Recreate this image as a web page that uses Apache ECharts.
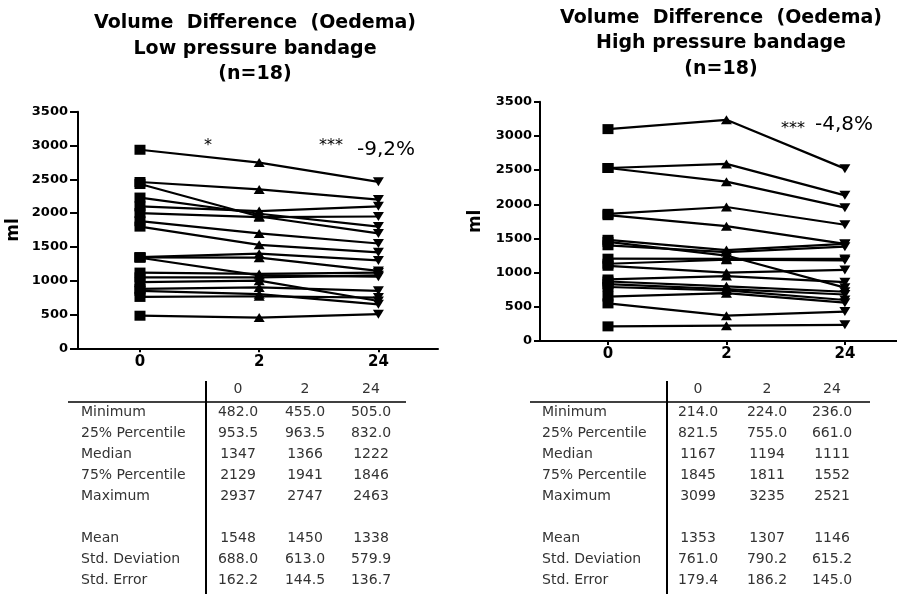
<!DOCTYPE html>
<html>
<head>
<meta charset="utf-8">
<script src="https://cdn.jsdelivr.net/npm/echarts@6/dist/echarts.min.js"></script>
<style>html,body{margin:0;padding:0;background:#fff;}#c{width:897px;height:594px;}</style>
</head>
<body>
<div id="c"></div>
<script>
// ---- data ----
const timeLabels = ['0', '2', '24'];
const yTicks = [0, 500, 1000, 1500, 2000, 2500, 3000, 3500];

const lowT0  = [2937, 2460, 2430, 2230, 2100, 2000, 1880, 1800, 1349, 1345, 1340, 1120, 1050, 978, 880, 850, 760, 482];
const lowT2  = [2747, 2350, 1950, 1990, 2030, 1940, 1700, 1530, 1400, 1340, 1080, 1100, 1050, 1000, 900, 800, 770, 455];
const lowT24 = [2463, 2200, 1700, 1800, 2100, 1950, 1550, 1420, 1300, 1145, 1060, 1120, 1080, 700, 850, 650, 750, 505];

const highT0  = [3099, 2530, 2530, 1860, 1840, 1480, 1450, 1400, 1204, 1130, 1100, 900, 870, 832, 790, 650, 550, 214];
const highT2  = [3235, 2590, 2330, 1960, 1680, 1330, 1250, 1300, 1200, 1188, 1000, 950, 800, 760, 740, 700, 370, 224];
const highT24 = [2521, 2130, 1950, 1700, 1420, 1420, 780, 1380, 1200, 1180, 1040, 860, 720, 680, 600, 560, 430, 236];

const statLabels = ['Minimum', '25% Percentile', 'Median', '75% Percentile', 'Maximum', '', 'Mean', 'Std. Deviation', 'Std. Error'];
const lowStatsT0  = ['482.0', '953.5', '1347', '2129', '2937', '', '1548', '688.0', '162.2'];
const lowStatsT2  = ['455.0', '963.5', '1366', '1941', '2747', '', '1450', '613.0', '144.5'];
const lowStatsT24 = ['505.0', '832.0', '1222', '1846', '2463', '', '1338', '579.9', '136.7'];
const highStatsT0  = ['214.0', '821.5', '1167', '1845', '3099', '', '1353', '761.0', '179.4'];
const highStatsT2  = ['224.0', '755.0', '1194', '1811', '3235', '', '1307', '790.2', '186.2'];
const highStatsT24 = ['236.0', '661.0', '1111', '1552', '2521', '', '1146', '615.2', '145.0'];

const lowTitle = ['Volume  Difference  (Oedema)', 'Low pressure bandage', '(n=18)'];
const highTitle = ['Volume  Difference  (Oedema)', 'High pressure bandage', '(n=18)'];
const lowNotes = ['*', '***', '-9,2%'];
const highNotes = ['***', '-4,8%'];

// ---- chart ----
const FONT = 'DejaVu Sans';
const chart = echarts.init(document.getElementById('c'), null, {renderer: 'canvas'});

function makeSeries(t0, t2, t24, gridIdx) {
  return t0.map((v, i) => ({
    type: 'line',
    xAxisIndex: gridIdx,
    yAxisIndex: gridIdx,
    silent: true,
    lineStyle: {color: '#000', width: 2.2},
    itemStyle: {color: '#000'},
    data: [
      {value: [0, t0[i]], symbol: 'rect', symbolSize: [11, 10]},
      {value: [1, t2[i]], symbol: 'triangle', symbolSize: [11, 9]},
      {value: [2, t24[i]], symbol: 'triangle', symbolSize: [11, 9], symbolRotate: 180}
    ],
    z: 3
  }));
}

function xAxisDef(gridIdx, min, max) {
  return {
    type: 'value', gridIndex: gridIdx, min: min, max: max,
    axisLine: {show: true, onZero: false, lineStyle: {color: '#000', width: 2}},
    axisTick: {show: true, customValues: [0, 1, 2], length: 4, lineStyle: {color: '#000', width: 2}},
    axisLabel: {customValues: [0, 1, 2], formatter: v => timeLabels[Math.round(v)],
      fontFamily: FONT, fontWeight: 'bold', fontSize: 15, color: '#000', margin: 6},
    splitLine: {show: false}
  };
}
function yAxisDef(gridIdx, tickLen, margin, nameGap) {
  return {
    type: 'value', gridIndex: gridIdx, min: yTicks[0], max: yTicks[yTicks.length - 1], interval: yTicks[1] - yTicks[0],
    name: 'ml', nameLocation: 'middle', nameGap: nameGap, nameRotate: 90,
    nameTextStyle: {fontFamily: FONT, fontWeight: 'bold', fontSize: 17, color: '#000'},
    axisLine: {show: true, onZero: false, lineStyle: {color: '#000', width: 2}},
    axisTick: {show: true, length: tickLen, lineStyle: {color: '#000', width: 2}},
    axisLabel: {fontFamily: FONT, fontWeight: 'bold', fontSize: 13, color: '#000', margin: margin,
      formatter: v => String(v)},
    splitLine: {show: false}
  };
}

const graphics = [];
function addText(x, y, text, opts) {
  graphics.push({type: 'text', x: x, y: y, silent: true,
    style: Object.assign({text: text, fontFamily: FONT, fill: '#000', align: 'center', verticalAlign: 'middle'}, opts || {})});
}
function addLine(x1, y1, x2, y2, w) {
  graphics.push({type: 'line', silent: true, shape: {x1: x1, y1: y1, x2: x2, y2: y2},
    style: {stroke: '#000', lineWidth: w}});
}

// titles
[[lowTitle, 255, [23, 49, 74]], [highTitle, 721, [18, 43, 69]]].forEach(([lines, cx, ys]) => {
  lines.forEach((t, i) => addText(cx, ys[i], t, {fontSize: 19, fontWeight: 'bold'}));
});

// annotations
addText(208, 146, lowNotes[0], {fontSize: 16});
addText(331, 146, lowNotes[1], {fontSize: 16});
addText(386, 150, lowNotes[2], {fontSize: 20});
addText(793, 129, highNotes[0], {fontSize: 16});
addText(844, 125, highNotes[1], {fontSize: 20});

// tables
function addTable(labelX, cols, vX, hX1, hX2, statCols) {
  const headerY = 389;
  const rowY = i => 412 + i * 21.1;
  addLine(vX, 381, vX, 594, 2);
  addLine(hX1, 402, hX2, 402, 1.5);
  timeLabels.forEach((t, j) => addText(cols[j], headerY, t, {fontSize: 14, fill: '#333'}));
  statLabels.forEach((lab, i) => {
    if (!lab) return;
    addText(labelX, rowY(i), lab, {fontSize: 14, fill: '#333', align: 'left'});
    statCols.forEach((col, j) => addText(cols[j], rowY(i), col[i], {fontSize: 14, fill: '#333'}));
  });
}
addTable(81, [238, 305, 371], 206, 68, 406, [lowStatsT0, lowStatsT2, lowStatsT24]);
addTable(542, [698, 767, 832], 667, 530, 870, [highStatsT0, highStatsT2, highStatsT24]);

const option = {
  animation: false,
  backgroundColor: '#fff',
  grid: [
    {left: 78, top: 111.7, width: 360, height: 236.6},
    {left: 540, top: 101.7, width: 357, height: 239.3}
  ],
  xAxis: [xAxisDef(0, -0.52, 2.5), xAxisDef(1, -0.574, 2.44)],
  yAxis: [yAxisDef(0, 8, 10, 56), yAxisDef(1, 6, 8, 56)],
  series: makeSeries(lowT0, lowT2, lowT24, 0).concat(makeSeries(highT0, highT2, highT24, 1)),
  graphic: graphics
};
chart.setOption(option);
</script>
</body>
</html>
